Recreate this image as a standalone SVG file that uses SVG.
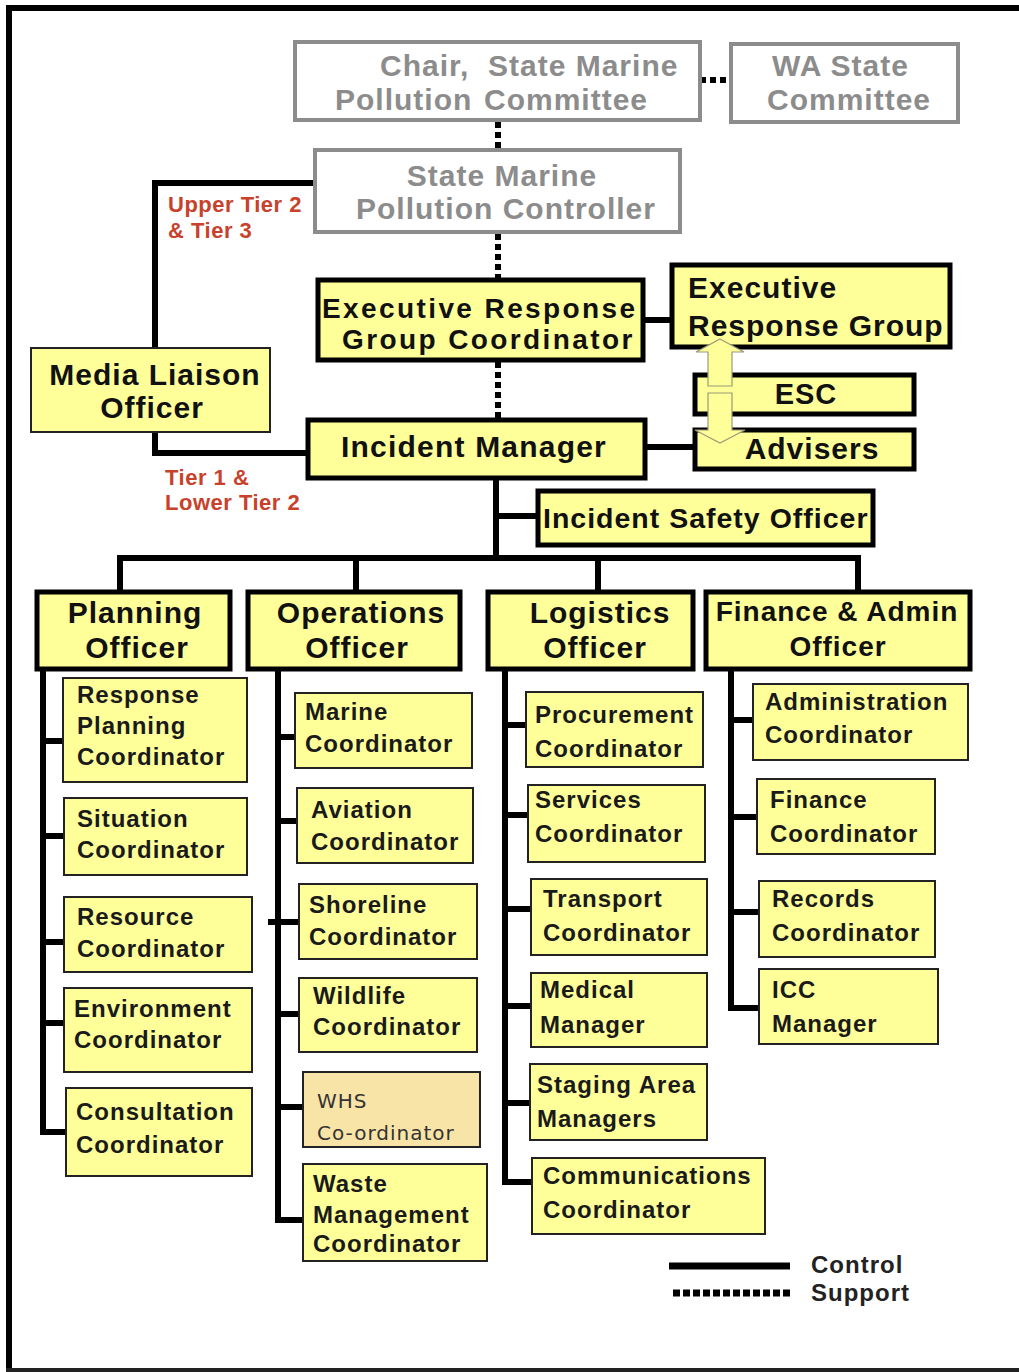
<svg xmlns="http://www.w3.org/2000/svg" width="1019" height="1372" viewBox="0 0 1019 1372">
<style>
.gbox{fill:#fff;stroke:#8c8c8c;stroke-width:4}
.tbox{fill:#FFFF99;stroke:#000;stroke-width:5}
.sbox{fill:#FFFF99;stroke:#222;stroke-width:2}
.whs{fill:#F9E4A8;stroke:#222;stroke-width:2}
.gt{font-family:"Liberation Sans",Arial,sans-serif;font-weight:bold;font-size:30px;fill:#8c8c8c;letter-spacing:1px}
.bt{font-family:"Liberation Sans",Arial,sans-serif;font-weight:bold;font-size:30px;fill:#111;letter-spacing:1px}
.st{font-family:"Liberation Sans",Arial,sans-serif;font-weight:bold;font-size:24px;fill:#1a1a1a;letter-spacing:1px}
.rt{font-family:"Liberation Sans",Arial,sans-serif;font-weight:bold;font-size:22px;fill:#C8412B;letter-spacing:0.5px}
.wt{font-family:"DejaVu Sans",sans-serif;font-size:20px;fill:#333;letter-spacing:1px}
.c{text-anchor:middle}
.ctl{fill:none;stroke:#000;stroke-width:6}
.sup{fill:none;stroke:#000;stroke-width:6;stroke-dasharray:6 4}
.arr{fill:#FFFF99;stroke:#9a9a7a;stroke-width:1.2}
</style>
<rect x="0" y="0" width="1019" height="1372" fill="#fff"/>
<g id="frame">
<rect x="6" y="5" width="1013" height="6" fill="#000"/>
<rect x="6" y="5" width="6" height="1367" fill="#000"/>
<rect x="6" y="1368" width="1013" height="4" fill="#222"/>
</g>
<g id="connectors">
<path class="sup" d="M700 80 H731"/>
<path class="sup" d="M498 122 V150"/>
<path class="sup" d="M498 234 V280"/>
<path class="sup" d="M498 362 V420"/>
<path class="ctl" d="M315 183 H155 V347"/>
<path class="ctl" d="M155 432 V453 H308"/>
<path class="ctl" d="M643 320 H672"/>
<path class="ctl" d="M645 447 H695"/>
<path class="ctl" d="M496 478 V558"/>
<path class="ctl" d="M496 516 H538"/>
<path class="ctl" d="M117 558 H861"/>
<path class="ctl" d="M120 558 V592 M356 558 V592 M598 558 V592 M858 558 V592"/>
<path class="ctl" d="M43 668 V1132 H66 M43 741 H63 M43 836 H64 M43 942 H64 M43 1023 H64"/>
<path class="ctl" d="M278 668 V1220 H303 M278 737 H295 M278 821 H297 M268 922 H299 M278 1014 H299 M278 1107 H303"/>
<path class="ctl" d="M505 668 V1182 H532 M505 725 H526 M505 815 H528 M505 909 H531 M505 1006 H531 M505 1103 H530"/>
<path class="ctl" d="M731 668 V1008 H759 M731 720 H753 M731 817 H757 M731 912 H759"/>
</g>
<g id="chair"><rect class="gbox" x="295" y="42" width="405" height="78"/>
<text class="gt" x="380" y="76">Chair,</text><text class="gt" x="488" y="76">State Marine</text>
<text class="gt" x="335" y="110">Pollution</text><text class="gt" x="484" y="110">Committee</text></g>
<g id="wa"><rect class="gbox" x="731" y="44" width="227" height="78"/>
<text class="gt" x="772" y="76">WA State</text><text class="gt" x="767" y="110">Committee</text></g>
<g id="smpc"><rect class="gbox" x="315" y="150" width="365" height="82"/>
<text class="gt c" x="502" y="186">State Marine</text><text class="gt c" x="506" y="219">Pollution Controller</text></g>
<g id="ergc"><rect class="tbox" x="318" y="280" width="325" height="80"/>
<text class="bt" x="322" y="318" style="font-size:28px;letter-spacing:2.4px">Executive Response</text>
<text class="bt" x="342" y="349" style="font-size:28px;letter-spacing:2.4px">Group Coordinator</text></g>
<g id="erg"><rect class="tbox" x="672" y="265" width="278" height="82"/>
<text class="bt" x="688" y="298">Executive</text><text class="bt" x="688" y="336">Response Group</text></g>
<g id="mlo"><rect class="sbox" x="31" y="348" width="239" height="84"/>
<text class="bt c" x="155" y="385">Media Liaison</text><text class="bt c" x="152" y="418">Officer</text></g>
<g id="labels">
<text class="rt" x="168" y="212">Upper Tier 2</text><text class="rt" x="168" y="238">&amp; Tier 3</text>
<text class="rt" x="165" y="485">Tier 1 &amp;</text><text class="rt" x="165" y="510">Lower Tier 2</text>
</g>
<g id="im"><rect class="tbox" x="308" y="420" width="337" height="58"/>
<text class="bt c" x="474" y="457" style="letter-spacing:1.2px">Incident Manager</text></g>
<g id="esc"><rect class="tbox" x="695" y="375" width="219" height="39"/>
<text class="bt c" x="806" y="404" style="font-size:29px">ESC</text></g>
<g id="advisers"><rect class="tbox" x="695" y="430" width="219" height="39"/>
<text class="bt c" x="812" y="459">Advisers</text></g>
<g id="arrows">
<path class="arr" d="M720 339 L744 352 L732 352 L732 386 L708 386 L708 352 L696 352 Z"/>
<path class="arr" d="M708 393 L732 393 L732 430 L745 430 L720 443 L695 430 L708 430 Z"/>
</g>
<g id="iso"><rect class="tbox" x="538" y="491" width="335" height="54"/>
<text class="bt" x="543" y="528" style="font-size:28.5px">Incident Safety Officer</text></g>
<g id="planning"><rect class="tbox" x="37" y="592" width="193" height="77"/>
<text class="bt c" x="135" y="623">Planning</text><text class="bt c" x="137" y="658">Officer</text></g>
<g id="operations"><rect class="tbox" x="248" y="592" width="212" height="77"/>
<text class="bt c" x="361" y="623">Operations</text><text class="bt c" x="357" y="658">Officer</text></g>
<g id="logistics"><rect class="tbox" x="488" y="592" width="205" height="77"/>
<text class="bt c" x="600" y="623">Logistics</text><text class="bt c" x="595" y="658">Officer</text></g>
<g id="finance"><rect class="tbox" x="706" y="592" width="264" height="77"/>
<text class="bt c" x="837" y="621" style="font-size:28px">Finance &amp; Admin</text><text class="bt c" x="838" y="656" style="font-size:28px">Officer</text></g>
<g id="resp-planning"><rect class="sbox" x="63" y="678" width="184" height="104"/>
<text class="st" x="77" y="703">Response</text><text class="st" x="77" y="734">Planning</text><text class="st" x="77" y="765">Coordinator</text></g>
<g id="situation"><rect class="sbox" x="64" y="798" width="183" height="77"/>
<text class="st" x="77" y="827">Situation</text><text class="st" x="77" y="858">Coordinator</text></g>
<g id="resource"><rect class="sbox" x="64" y="897" width="188" height="75"/>
<text class="st" x="77" y="925">Resource</text><text class="st" x="77" y="957">Coordinator</text></g>
<g id="environment"><rect class="sbox" x="64" y="988" width="188" height="84"/>
<text class="st" x="74" y="1017">Environment</text><text class="st" x="74" y="1048">Coordinator</text></g>
<g id="consultation"><rect class="sbox" x="66" y="1088" width="186" height="88"/>
<text class="st" x="76" y="1120">Consultation</text><text class="st" x="76" y="1153">Coordinator</text></g>
<g id="marine"><rect class="sbox" x="295" y="693" width="177" height="75"/>
<text class="st" x="305" y="720">Marine</text><text class="st" x="305" y="752">Coordinator</text></g>
<g id="aviation"><rect class="sbox" x="297" y="788" width="176" height="75"/>
<text class="st" x="311" y="818">Aviation</text><text class="st" x="311" y="850">Coordinator</text></g>
<g id="shoreline"><rect class="sbox" x="299" y="884" width="178" height="75"/>
<text class="st" x="309" y="913">Shoreline</text><text class="st" x="309" y="945">Coordinator</text></g>
<g id="wildlife"><rect class="sbox" x="299" y="978" width="178" height="74"/>
<text class="st" x="313" y="1004">Wildlife</text><text class="st" x="313" y="1035">Coordinator</text></g>
<g id="whs"><rect class="whs" x="303" y="1072" width="177" height="75"/>
<text class="wt" x="317" y="1108">WHS</text><text class="wt" x="317" y="1140">Co-ordinator</text></g>
<g id="waste"><rect class="sbox" x="303" y="1164" width="184" height="97"/>
<text class="st" x="313" y="1192">Waste</text><text class="st" x="313" y="1223">Management</text><text class="st" x="313" y="1252">Coordinator</text></g>
<g id="procurement"><rect class="sbox" x="526" y="692" width="177" height="75"/>
<text class="st" x="535" y="723">Procurement</text><text class="st" x="535" y="757">Coordinator</text></g>
<g id="services"><rect class="sbox" x="528" y="785" width="177" height="77"/>
<text class="st" x="535" y="808">Services</text><text class="st" x="535" y="842">Coordinator</text></g>
<g id="transport"><rect class="sbox" x="531" y="879" width="176" height="76"/>
<text class="st" x="543" y="907">Transport</text><text class="st" x="543" y="941">Coordinator</text></g>
<g id="medical"><rect class="sbox" x="531" y="973" width="176" height="74"/>
<text class="st" x="540" y="998">Medical</text><text class="st" x="540" y="1033">Manager</text></g>
<g id="staging"><rect class="sbox" x="530" y="1064" width="177" height="76"/>
<text class="st" x="537" y="1093">Staging Area</text><text class="st" x="537" y="1127">Managers</text></g>
<g id="communications"><rect class="sbox" x="532" y="1158" width="233" height="76"/>
<text class="st" x="543" y="1184">Communications</text><text class="st" x="543" y="1218">Coordinator</text></g>
<g id="administration"><rect class="sbox" x="753" y="684" width="215" height="76"/>
<text class="st" x="765" y="710">Administration</text><text class="st" x="765" y="743">Coordinator</text></g>
<g id="finance-coord"><rect class="sbox" x="757" y="779" width="178" height="75"/>
<text class="st" x="770" y="808">Finance</text><text class="st" x="770" y="842">Coordinator</text></g>
<g id="records"><rect class="sbox" x="759" y="881" width="176" height="76"/>
<text class="st" x="772" y="907">Records</text><text class="st" x="772" y="941">Coordinator</text></g>
<g id="icc"><rect class="sbox" x="759" y="969" width="179" height="75"/>
<text class="st" x="772" y="998">ICC</text><text class="st" x="772" y="1032">Manager</text></g>
<g id="legend">
<path class="ctl" d="M669 1266 H790" style="stroke-width:7"/>
<path class="sup" d="M673 1293 H790" style="stroke-width:7;stroke-dasharray:7 3"/>
<text class="st" x="811" y="1273" style="fill:#222">Control</text>
<text class="st" x="811" y="1301" style="fill:#222">Support</text>
</g>
</svg>
